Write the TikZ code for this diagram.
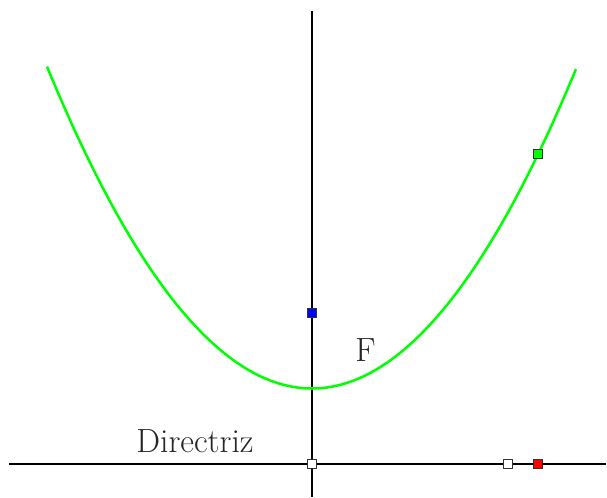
\documentclass[tikz,border=0pt]{standalone}
\begin{document}
\begin{tikzpicture}[x=0.5pt,y=-0.5pt,
  axis/.style={line width=1.25pt,black},
  curve/.style={line width=1.25pt,color={rgb,255:red,0;green,255;blue,0}},
  pt/.style={draw=black!80,line width=0.45pt,minimum size=4.2pt,inner sep=0pt,rectangle},
  lbl/.style={font=\fontsize{16.8}{19}\selectfont,text=black!85}]
\useasboundingbox (0,0) rectangle (607,498);
\coordinate (hl) at (9,464);
\coordinate (hr) at (606,464);
\coordinate (vt) at (312,11);
\coordinate (vb) at (312,497);
\draw[axis] (hl) -- (hr);
\draw[axis] (vt) -- (vb);
\draw[curve] plot[domain=-2.65:2.64,samples=120] ({312+100*\x},{388.5-45.84*\x*\x});
\node[pt,fill=white] (o) at (312,464) {};
\node[pt,fill=white] (w) at (508,464) {};
\node[pt,fill={rgb,255:red,255;green,0;blue,0}] (r) at (538,464) {};
\node[pt,fill={rgb,255:red,0;green,255;blue,0}] (g) at (538,154) {};
\node[pt,fill={rgb,255:red,0;green,0;blue,255}] (b) at (312,313) {};
\node[lbl,anchor=base] (F) at (365.5,361.7) {F};
\node[lbl,anchor=base] (d) at (195,452.7) {Directriz};
\end{tikzpicture}
\end{document}
